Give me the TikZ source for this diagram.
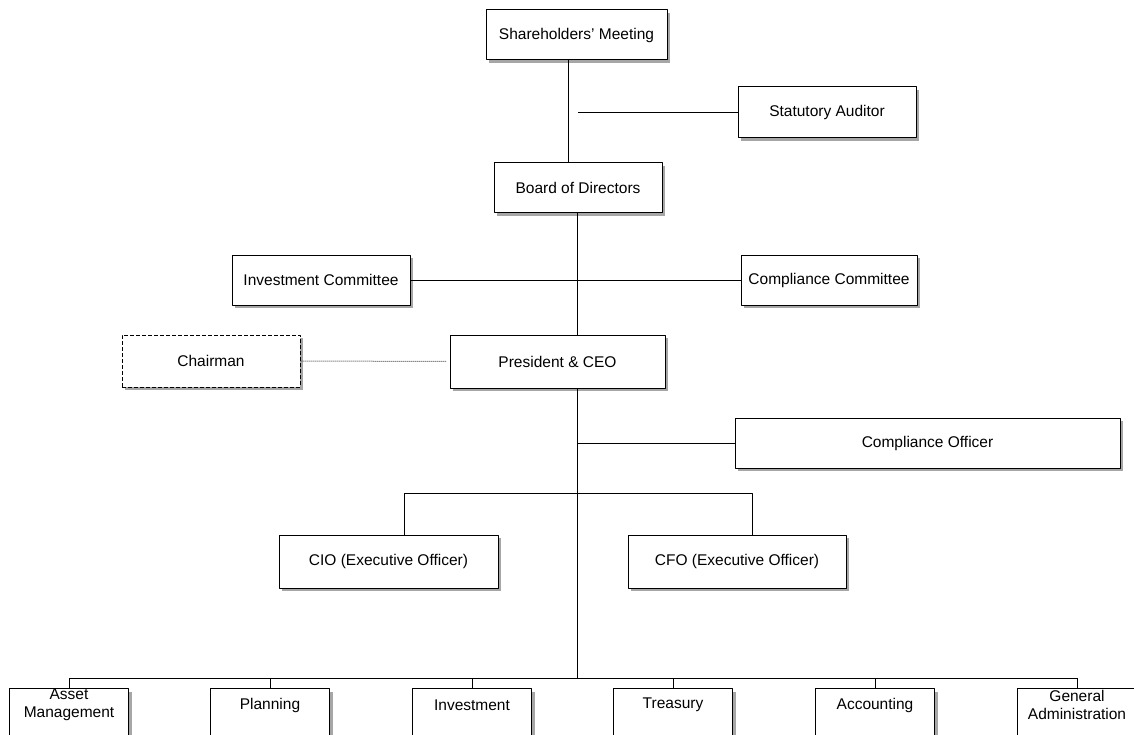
\documentclass[tikz,border=0pt]{standalone}
\usepackage{fontspec}
\setmainfont{Liberation Sans}
\usetikzlibrary{shadows}
\tikzset{
  unit/.style={draw, fill=white, line width=1pt, minimum height=50pt, inner sep=2pt,
    drop shadow={shadow xshift=3pt, shadow yshift=-3pt, fill=gray!70, opacity=1}},
  dept/.style={unit, minimum width=119pt, minimum height=62pt, anchor=north},
  deptlabel/.style={anchor=center, align=center, yshift=-17pt},
  link/.style={line width=1pt},
}
\begin{document}
\begin{tikzpicture}[x=1pt, y=-1pt, font=\fontsize{15.5}{18}\selectfont, line join=round]
  \useasboundingbox (0,0) rectangle (1134,735);
  \path (568,0) coordinate (s1)
        (577,0) coordinate (s2)
        (578,113) coordinate (sa)
        (404,493) coordinate (c1)
        (752,493) coordinate (c2)
        (577,678) coordinate (bus);
  % top of the chart
  \node[unit, minimum width=181pt] (share) at (576.5,35) {Shareholders' Meeting};
  \node[unit, minimum width=178pt, minimum height=51pt] (auditor) at (827,112.5) {Statutory Auditor};
  \node[unit, minimum width=168pt] (board) at (578,188) {Board of Directors};
  \node[unit, minimum width=178pt] (invcom) at (321,280) {Investment Committee};
  \node[unit, minimum width=176pt] (compcom) at (829,280) {Compliance Committee};
  \node[unit, dash pattern=on 4pt off 2pt, minimum width=178pt, minimum height=52pt] (chair) at (211,361) {Chairman};
  \node[unit, minimum width=215pt, minimum height=53pt] (ceo) at (557.5,361.5) {President \& CEO};
  \node[unit, minimum width=385pt] (compoff) at (927.5,443) {Compliance Officer};
  \node[unit, minimum width=219pt, minimum height=53pt] (cio) at (388.5,561.5) {CIO (Executive Officer)};
  \node[unit, minimum width=218pt, minimum height=53pt] (cfo) at (737,561.5) {CFO (Executive Officer)};
  % departments
  \foreach \n/\x/\t in {am/69/{Asset\\Management}, pl/270/{Planning}, inv/472/{Investment},
      tr/673/{Treasury}, acc/875/{Accounting}, ga/1077/{General\\Administration}}{
    \node[dept, label={[deptlabel]north:\t}] (\n) at (\x,688) {};
    \draw[link] (\n.north) -- (\n.north |- bus);}
  \draw[link] (am.north |- bus) -- (ga.north |- bus);
  % connectors
  \draw[link] (share.south -| s1) -- (board.north -| s1);
  \draw[link] (sa) -- (sa -| auditor.west);
  \draw[link] (board.south -| s2) -- (ceo.north -| s2);
  \draw[link] (invcom.east) -- (compcom.west);
  \draw[black!70, line width=1pt, dash pattern=on 1pt off 1pt] (chair.east) -- ([xshift=-3pt]ceo.west);
  \draw[link] (ceo.south -| s2) -- (bus);
  \draw[link] (compoff.west -| s2) -- (compoff.west);
  \draw[link] (cio.north -| c1) -- (c1) -- (c2) -- (cfo.north -| c2);
\end{tikzpicture}
\end{document}
